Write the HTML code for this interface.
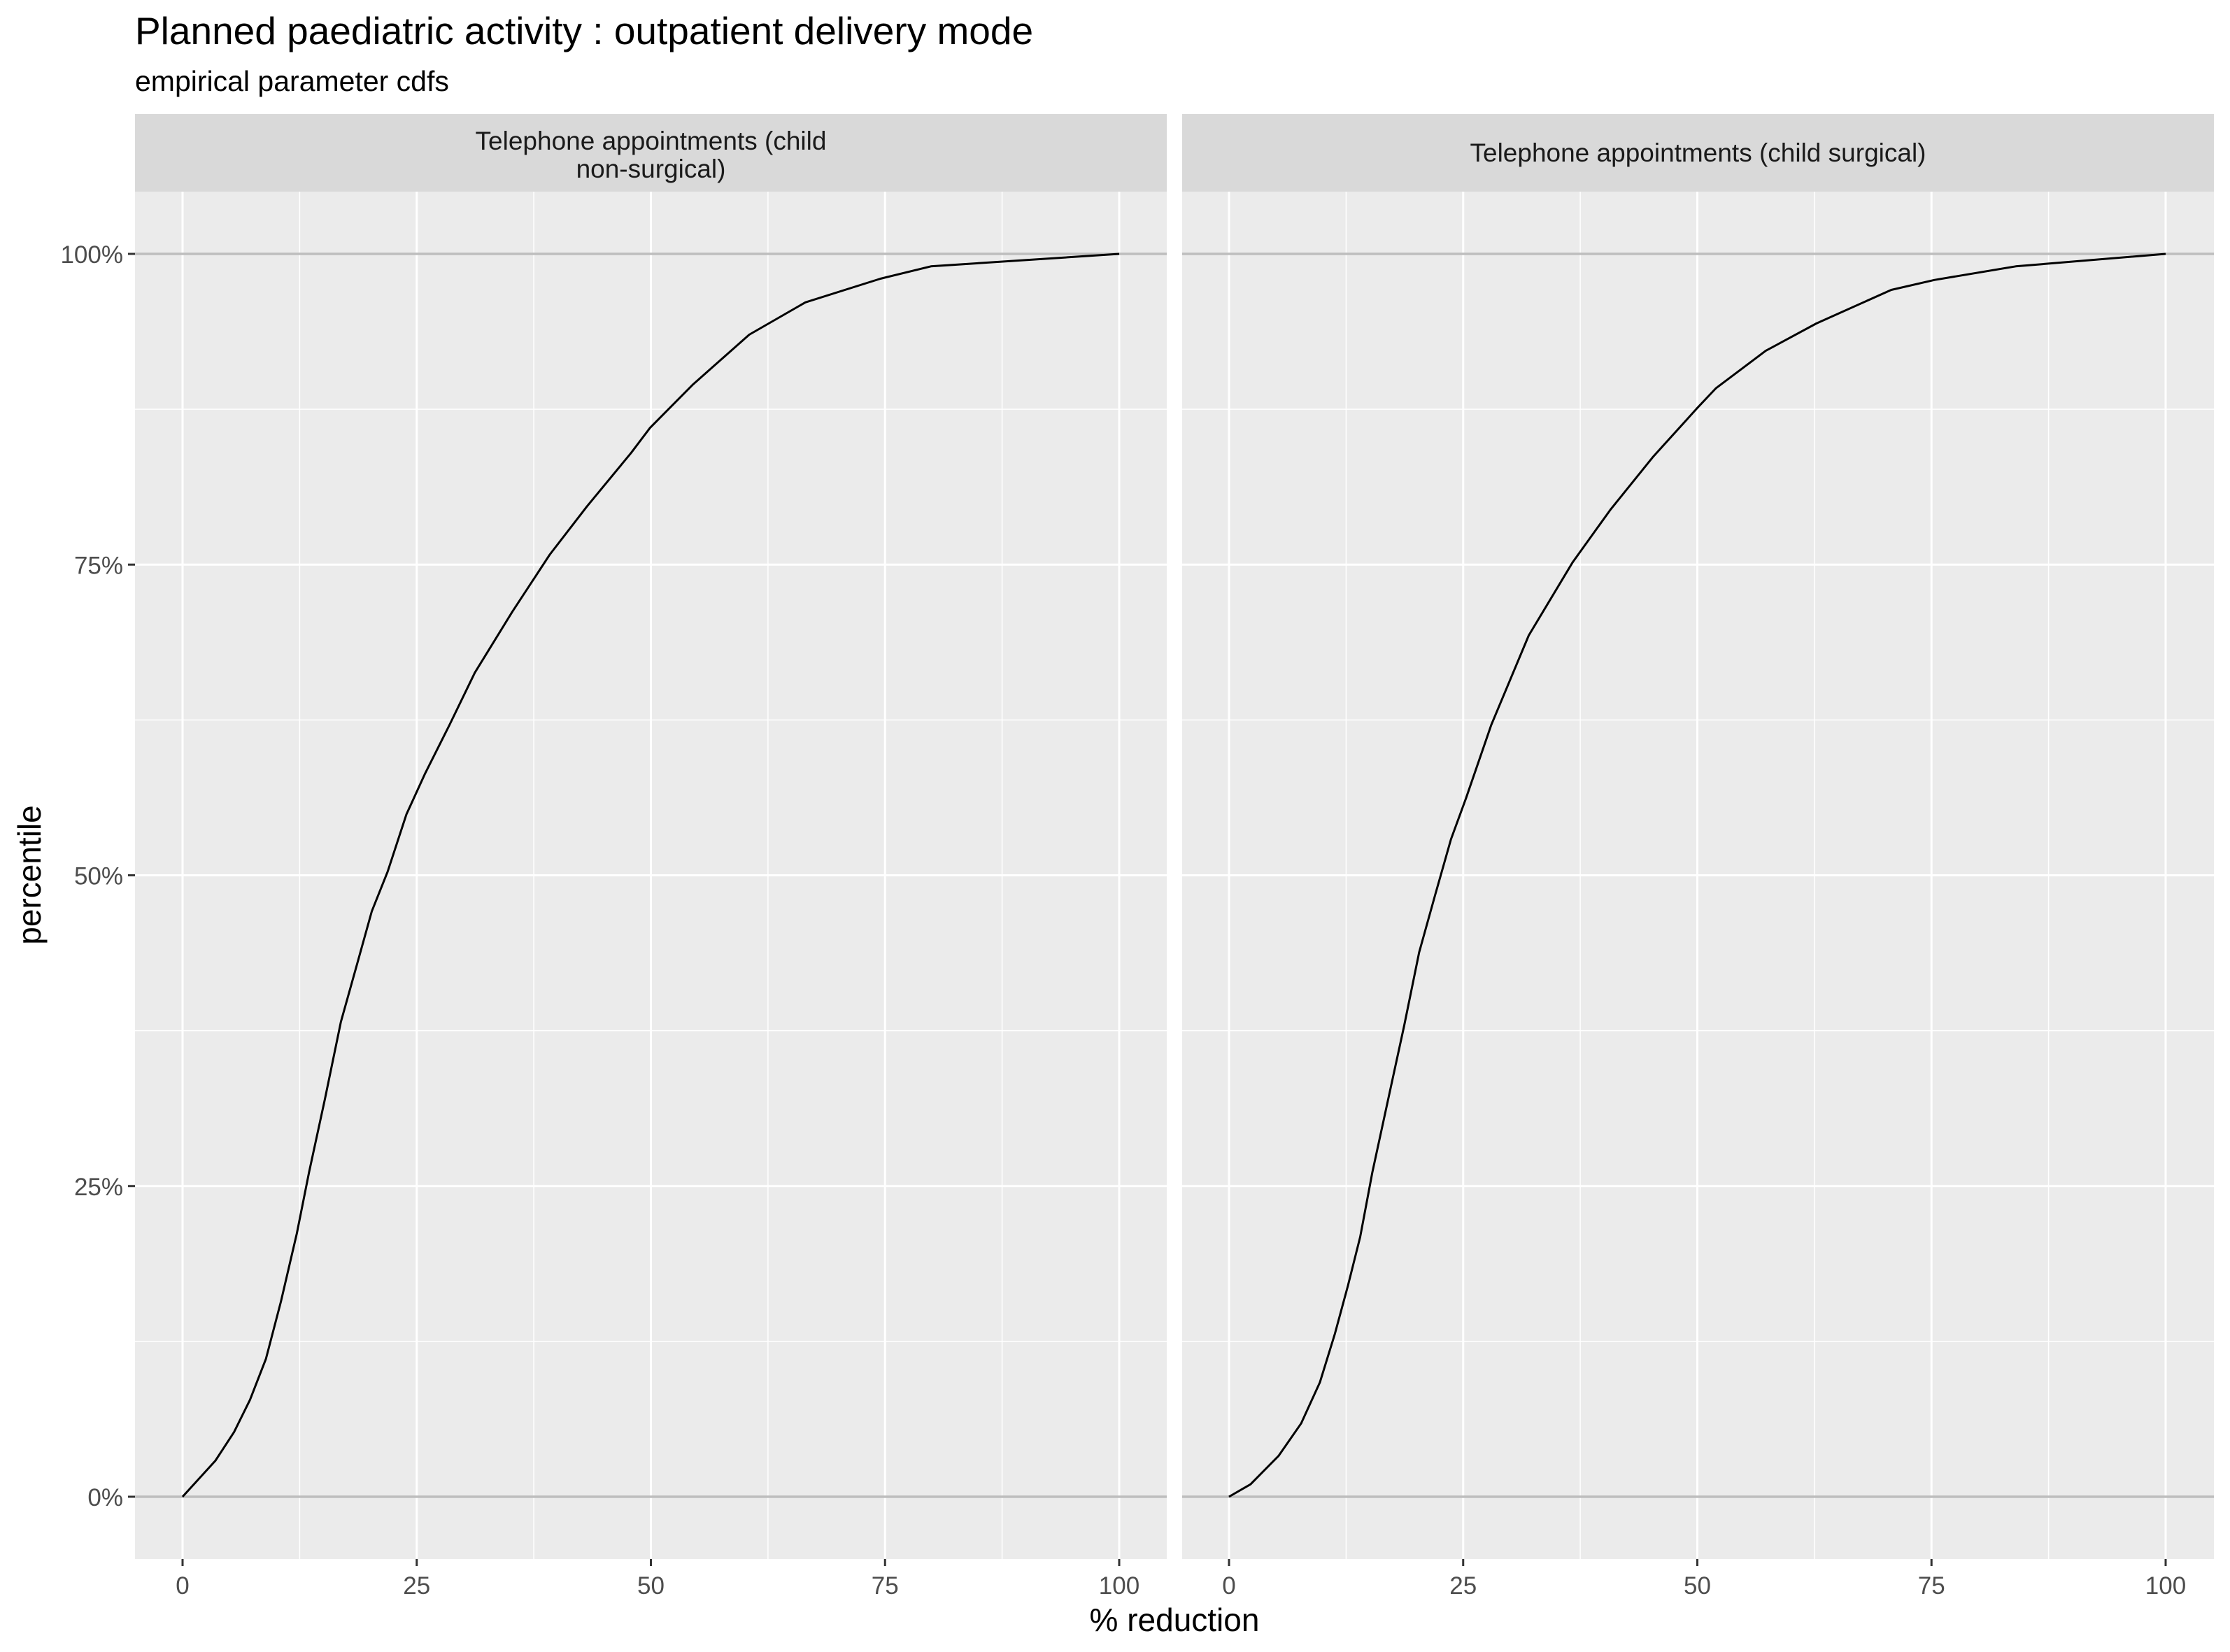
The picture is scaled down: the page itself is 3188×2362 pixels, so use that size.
<!DOCTYPE html>
<html><head><meta charset="utf-8"><style>
html,body{margin:0;padding:0;background:#fff;}
svg{display:block;font-family:"Liberation Sans",sans-serif;}
</style></head><body>
<svg id="chart" width="3188" height="2362" viewBox="0 0 3188 2362" xmlns="http://www.w3.org/2000/svg">
<rect width="3188" height="2362" fill="#fff"/>
<text x="193" y="63" font-size="55" fill="#000">Planned paediatric activity : outpatient delivery mode</text>
<text x="193" y="130" font-size="41" fill="#000">empirical parameter cdfs</text>
<text transform="translate(58,1251) rotate(-90)" text-anchor="middle" font-size="46" fill="#000">percentile</text>
<text x="1679" y="2332" text-anchor="middle" font-size="46" fill="#000">% reduction</text>
<g id="panels"></g>
</svg>
<script>
const xTicks = [0, 25, 50, 75, 100];
const yTicks = [0, 25, 50, 75, 100];
const yTickLabels = ["0%", "25%", "50%", "75%", "100%"];
const panelTitles = [["Telephone appointments (child", "non-surgical)"], ["Telephone appointments (child surgical)"]];
const leftX = [0,3.5,5.5,7.2,8.9,10.5,12.2,13.5,15.2,16.9,18.5,20.2,21.9,23.9,25.9,28.5,31.2,35.2,39.2,43.2,47.9,49.9,54.5,60.5,66.5,74.5,79.9,100];
const leftY = [0,2.9,5.2,7.8,11.1,15.7,21.2,26.1,32,38.2,42.5,47.1,50.3,54.9,58.2,62.1,66.3,71.2,75.8,79.7,84,86,89.5,93.5,96.1,98,99,100];
const rightX = [0,2.3,5.3,7.7,9.7,11.3,12.7,14,15.3,17,18.7,20.3,22,23.7,25.3,28,32,36.7,40.7,45.3,50,52,57.3,62.7,70.7,75.3,84,100];
const rightY = [0,1,3.3,5.9,9.2,13.1,17,20.9,26.1,32,37.9,43.8,48.4,52.9,56.2,62.1,69.3,75.2,79.4,83.7,87.6,89.2,92.2,94.4,97.1,97.9,99,100];

const NS = "http://www.w3.org/2000/svg";
const g = document.getElementById("panels");
function mk(tag, attrs, parent){const e=document.createElementNS(NS,tag);for(const k in attrs)e.setAttribute(k,attrs[k]);(parent||g).appendChild(e);return e;}
const panelTop = 274, panelBottom = 2229, stripTop = 163;
const ySc = p => 2140 - p * 17.77;
const panels = [{left:193,right:1668,x0:261,xs:leftX,ys:leftY},{left:1690,right:3165,x0:1757,xs:rightX,ys:rightY}];
panels.forEach((P, i) => {
  const xSc = v => P.x0 + v * 13.39;
  const bg = mk("rect",{x:P.left,y:panelTop,width:P.right-P.left,height:panelBottom-panelTop,fill:"#ebebeb"});
  
  
  for (let k = 0; k < xTicks.length - 1; k++) {
    const mv = (xTicks[k] + xTicks[k+1]) / 2;
    const l = mk("line",{x1:xSc(mv),x2:xSc(mv),y1:panelTop,y2:panelBottom,stroke:"#fff","stroke-width":1.5});
    
    
  }
  for (let k = 0; k < yTicks.length - 1; k++) {
    const mv = (yTicks[k] + yTicks[k+1]) / 2;
    const l = mk("line",{x1:P.left,x2:P.right,y1:ySc(mv),y2:ySc(mv),stroke:"#fff","stroke-width":1.5});
    
    
  }
  xTicks.forEach(v => {
    const l = mk("line",{x1:xSc(v),x2:xSc(v),y1:panelTop,y2:panelBottom,stroke:"#fff","stroke-width":3});
    
    
    const t = mk("line",{x1:xSc(v),x2:xSc(v),y1:panelBottom,y2:panelBottom+10,stroke:"#333","stroke-width":3});
    
    
    const tx = mk("text",{x:xSc(v),y:2279,"text-anchor":"middle","font-size":35,fill:"#4d4d4d"});
    tx.textContent = v;
    
    
  });
  yTicks.forEach((v, k) => {
    const l = mk("line",{x1:P.left,x2:P.right,y1:ySc(v),y2:ySc(v),stroke:"#fff","stroke-width":3});
    
    
  });
  [0,100].forEach(v => {
    const h = mk("line",{x1:P.left,x2:P.right,y1:ySc(v),y2:ySc(v),stroke:"#bebebe","stroke-width":3.5});
    
    
  });
  if (i === 0) {
    yTicks.forEach((v, k) => {
      const t = mk("line",{x1:P.left-10,x2:P.left,y1:ySc(v),y2:ySc(v),stroke:"#333","stroke-width":3});
      
      
      const tx = mk("text",{x:P.left-17,y:ySc(v)+13,"text-anchor":"end","font-size":35,fill:"#4d4d4d"});
      tx.textContent = yTickLabels[k];
      
      
    });
  }
  const strip = mk("rect",{x:P.left,y:stripTop,width:P.right-P.left,height:panelTop-stripTop,fill:"#d9d9d9"});
  
  
  const lines = panelTitles[i];
  const cx = (P.left + P.right) / 2;
  lines.forEach((s, k) => {
    const yb = lines.length === 1 ? 231 : 214 + k * 40;
    const t = mk("text",{x:cx,y:yb,"text-anchor":"middle","font-size":37,fill:"#1a1a1a"});
    t.textContent = s;
    
    
  });
  const d = P.xs.map((v, k) => (k ? "L" : "M") + xSc(v).toFixed(1) + " " + ySc(P.ys[k]).toFixed(1)).join(" ");
  const path = mk("path",{d:d,fill:"none",stroke:"#000","stroke-width":3,"stroke-linejoin":"round"});
  
  
});
</script>
</body></html>
